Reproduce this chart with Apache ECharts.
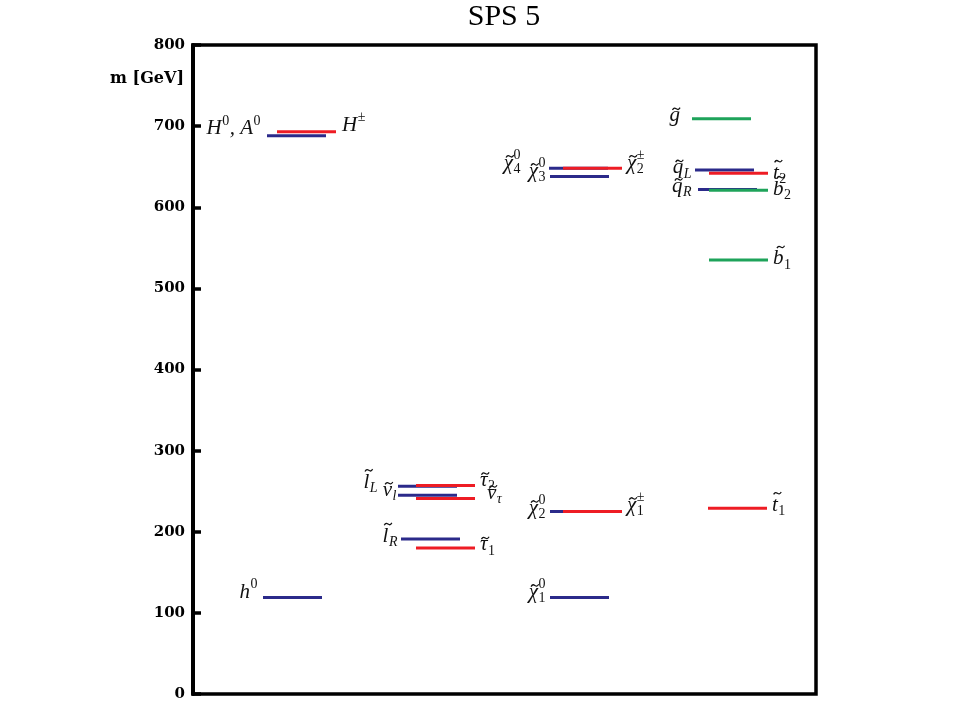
<!DOCTYPE html>
<html><head><meta charset="utf-8">
<script src="https://cdn.jsdelivr.net/npm/echarts@6/dist/echarts.min.js"></script>
<style>html,body{margin:0;padding:0;background:#fff}#c{width:960px;height:720px}</style>
</head><body><div id="c"></div>
<script>
// ---------- data ----------
const yTicks = [0, 100, 200, 300, 400, 500, 600, 700, 800];

const higgsNames = ['h0', 'H0A0', 'Hpm'];
const higgsMasses = [119, 688, 693];

const sleptonNames = ['lL', 'nul', 'tau2', 'nutau', 'lR', 'tau1'];
const sleptonMasses = [256, 245, 257, 241, 191, 180];

const inoNames = ['chi04', 'chi03', 'chipm2', 'chi02', 'chipm1', 'chi01'];
const inoMasses = [648, 638, 648, 225, 225, 119];

const squarkNames = ['gluino', 'qL', 't2', 'qR', 'b2', 'b1', 't1'];
const squarkMasses = [709, 646, 642, 622, 621, 535, 229];

// '~' marks a tilde over the following letter, ^{} superscript, _{} subscript
const labelText = {
  h0: 'h^{0}', H0A0: 'H^{0}, A^{0}', Hpm: 'H^{±}',
  lL: '~l_{L}', nul: '~ν_{l}', tau2: '~τ_{2}', nutau: '~ν_{τ}', lR: '~l_{R}', tau1: '~τ_{1}',
  chi04: '~χ^{0}_{4}', chi03: '~χ^{0}_{3}', chipm2: '~χ^{±}_{2}',
  chi02: '~χ^{0}_{2}', chipm1: '~χ^{±}_{1}', chi01: '~χ^{0}_{1}',
  gluino: '~g', qL: '~q_{L}', t2: '~t_{2}', qR: '~q_{R}', b2: '~b_{2}', b1: '~b_{1}', t1: '~t_{1}'
};

// ---------- layout / style (not data) ----------
const SEG_W = 59;      // segment length in x-axis units
const layout = {
  h0:     {x0: 70,  c: 'blue',  side: 'L', gap: 5,  dy: -5},
  H0A0:   {x0: 74,  c: 'blue',  side: 'L', gap: 6,  dy: -7},
  Hpm:    {x0: 84,  c: 'red',   side: 'R', gap: 6,  dy: -6},
  lL:     {x0: 205, c: 'blue',  side: 'L', gap: 20, dy: -4},
  nul:    {x0: 205, c: 'blue',  side: 'L', gap: 1,  dy: -5},
  tau2:   {x0: 223, c: 'red',   side: 'R', gap: 5,  dy: -5},
  nutau:  {x0: 223, c: 'red',   side: 'R', gap: 12, dy: -5},
  lR:     {x0: 208, c: 'blue',  side: 'L', gap: 3,  dy: -3},
  tau1:   {x0: 223, c: 'red',   side: 'R', gap: 5,  dy: -3},
  chi04:  {x0: 356, c: 'blue',  side: 'L', gap: 28, dy: -5},
  chi03:  {x0: 357, c: 'blue',  side: 'L', gap: 4,  dy: -5},
  chipm2: {x0: 370, c: 'red',   side: 'R', gap: 5,  dy: -5},
  chi02:  {x0: 357, c: 'blue',  side: 'L', gap: 4,  dy: -3},
  chipm1: {x0: 370, c: 'red',   side: 'R', gap: 5,  dy: -6},
  chi01:  {x0: 357, c: 'blue',  side: 'L', gap: 4,  dy: -5},
  gluino: {x0: 499, c: 'green', side: 'L', gap: 12, dy: -3},
  qL:     {x0: 502, c: 'blue',  side: 'L', gap: 3,  dy: -2},
  t2:     {x0: 516, c: 'red',   side: 'R', gap: 5,  dy: 0},
  qR:     {x0: 505, c: 'blue',  side: 'L', gap: 6,  dy: -3},
  b2:     {x0: 516, c: 'green', side: 'R', gap: 5,  dy: -1},
  b1:     {x0: 516, c: 'green', side: 'R', gap: 5,  dy: -1},
  t1:     {x0: 515, c: 'red',   side: 'R', gap: 5,  dy: -3}
};
const COLORS = {blue: '#2b2a8a', red: '#ee1c24', green: '#1ea35a'};
const TEXT_COLOR = '#111';
const FONT_FAMILY = '"Liberation Serif", "DejaVu Serif", serif';
const MAIN_SIZE = 21, SCRIPT_SIZE = 14;

// ---------- helpers ----------
const mctx = document.createElement('canvas').getContext('2d');
function fontStr(size, italic) { return (italic ? 'italic ' : '') + size + 'px ' + FONT_FAMILY; }
function isUpright(t) { return /^[0-9±,\s]+$/.test(t); }
function textW(t, size) { mctx.font = fontStr(size, !isUpright(t)); return mctx.measureText(t).width; }

function parseLabel(s) {
  const re = /\^\{([^}]*)\}|_\{([^}]*)\}|([^^_]+)/g;
  const out = []; let m;
  while ((m = re.exec(s))) {
    if (m[3] !== undefined) {
      let t = m[3], tilde = false;
      if (t[0] === '~') { tilde = true; t = t.slice(1); }
      out.push({kind: 'main', t: t, tilde: tilde});
    } else {
      const key = m[1] !== undefined ? 'sup' : 'sub';
      const val = m[1] !== undefined ? m[1] : m[2];
      let last = out[out.length - 1];
      if (!last || last.kind !== 'script' || last[key] !== undefined) { last = {kind: 'script'}; out.push(last); }
      last[key] = val;
    }
  }
  return out;
}

function textEl(t, x, y, size) {
  return {
    type: 'text', x: x, y: y, silent: true,
    style: {
      text: t, font: fontStr(size, !isUpright(t)), fill: TEXT_COLOR,
      align: 'left', verticalAlign: 'middle', textAlign: 'left', textVerticalAlign: 'middle'
    }
  };
}

function tildeEl(cx, ty) {
  const hw = 3.8;
  return {
    type: 'bezierCurve', silent: true,
    shape: {x1: cx - hw, y1: ty + 1.2, x2: cx + hw, y2: ty - 1.2,
            cpx1: cx - hw * 0.2, cpy1: ty - 4.2, cpx2: cx + hw * 0.2, cpy2: ty + 4.2},
    style: {stroke: TEXT_COLOR, fill: null, lineWidth: 1.3}
  };
}

function buildLabel(key, xLeft, xRight, y) {
  const L = layout[key];
  const pieces = parseLabel(labelText[key]);
  const widths = pieces.map(p => p.kind === 'main' ? textW(p.t, MAIN_SIZE)
    : Math.max(p.sup ? textW(p.sup, SCRIPT_SIZE) : 0, p.sub ? textW(p.sub, SCRIPT_SIZE) : 0) + 1);
  const total = widths.reduce((a, b) => a + b, 0);
  let x = L.side === 'R' ? xRight + L.gap : xLeft - L.gap - total;
  const cy = y + L.dy;
  const els = [];
  pieces.forEach((p, i) => {
    if (p.kind === 'main') {
      els.push(textEl(p.t, x, cy, MAIN_SIZE));
      if (p.tilde) {
        const ch = p.t[0];
        const w = textW(ch, MAIN_SIZE);
        const asc = /[lbtdhk]/.test(ch);
        els.push(tildeEl(x + w / 2 + (asc ? 2.5 : 1.5), cy - (asc ? 12 : 7)));
      }
    } else {
      const x1 = x + 0.5;
      if (p.sup !== undefined) els.push(textEl(p.sup, x1, cy - 8, SCRIPT_SIZE));
      if (p.sub !== undefined) els.push(textEl(p.sub, x1, cy + 6, SCRIPT_SIZE));
    }
    x += widths[i];
  });
  return els;
}

// collect all particles
const allNames = [].concat(higgsNames, sleptonNames, inoNames, squarkNames);
const allMasses = [].concat(higgsMasses, sleptonMasses, inoMasses, squarkMasses);

function seriesFor(colorKey) {
  const data = [];
  allNames.forEach((n, i) => {
    if (layout[n].c === colorKey) data.push({name: n, value: [layout[n].x0, allMasses[i]]});
  });
  return {
    type: 'custom', name: colorKey, coordinateSystem: 'cartesian2d',
    clip: false, silent: true,
    encode: {x: 0, y: 1},
    data: data,
    renderItem: function (params, api) {
      const key = data[params.dataIndex].name;
      const x0 = api.value(0), m = api.value(1);
      const p1 = api.coord([x0, m]);
      const p2 = api.coord([x0 + SEG_W, m]);
      const children = [{
        type: 'line', silent: true,
        shape: {x1: p1[0], y1: p1[1], x2: p2[0], y2: p2[1]},
        style: {stroke: COLORS[colorKey], lineWidth: 3}
      }].concat(buildLabel(key, p1[0], p2[0], p1[1]));
      return {type: 'group', children: children};
    }
  };
}

const chart = echarts.init(document.getElementById('c'), null, {renderer: 'canvas'});
chart.setOption({
  animation: false,
  backgroundColor: '#fff',
  grid: {left: 193, right: 144, top: 45, bottom: 26, show: true, borderColor: '#000', borderWidth: 3.5, backgroundColor: 'transparent'},
  xAxis: {type: 'value', min: 0, max: 623, show: false},
  yAxis: {
    type: 'value', min: yTicks[0], max: yTicks[yTicks.length - 1], interval: yTicks[1] - yTicks[0],
    axisLine: {show: true, lineStyle: {color: '#000', width: 4}},
    axisTick: {show: true, inside: true, length: 8, lineStyle: {color: '#000', width: 3.5}},
    splitLine: {show: false},
    axisLabel: {
      color: '#000', fontFamily: 'DejaVu Serif', fontWeight: 'bold', fontSize: 15, margin: 8,
      padding: [0, 0, 9, 0],
      formatter: v => yTicks.includes(v) ? String(v) : ''
    }
  },
  graphic: [
    {type: 'text', x: 504, y: 17, silent: true,
     style: {text: 'SPS 5', font: '30px "Liberation Serif"', fill: '#000', align: 'center', verticalAlign: 'middle', textAlign: 'center', textVerticalAlign: 'middle'}},
    {type: 'text', x: 184, y: 79, silent: true,
     style: {text: 'm [GeV]', font: 'bold 16px "DejaVu Serif"', fill: '#000', align: 'right', verticalAlign: 'middle', textAlign: 'right', textVerticalAlign: 'middle'}}
  ],
  series: [seriesFor('blue'), seriesFor('red'), seriesFor('green')]
});
</script>
</body></html>
